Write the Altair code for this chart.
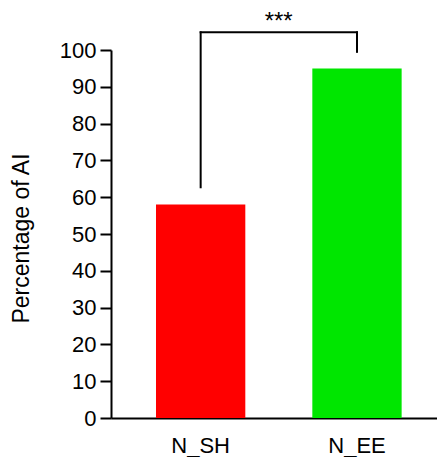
import altair as alt
import pandas as pd

# Data
categories = ["N_SH", "N_EE"]
values = [58, 95]
colors = ["#FF0000", "#00E600"]

# Significance bracket
bracket_left = "N_SH"
bracket_right = "N_EE"
bracket_top = 104.8
bracket_left_bottom = 62.7
bracket_right_bottom = 99.5
sig_label = "***"
sig_y = 105.6

y_title = "Percentage of AI"
y_tick_count = 10

bars_df = pd.DataFrame({"group": categories, "value": values})
horiz_df = pd.DataFrame({"x": [bracket_left], "x2": [bracket_right], "y": [bracket_top]})
vert_df = pd.DataFrame({
    "x": [bracket_left, bracket_right],
    "y": [bracket_left_bottom, bracket_right_bottom],
    "y2": [bracket_top, bracket_top],
})
text_df = pd.DataFrame({"x": [bracket_left], "y": [sig_y], "label": [sig_label]})

FONT = "Liberation Sans"

x_scale = alt.Scale(domain=categories, paddingInner=0.4287, paddingOuter=0.257, align=0.56)
y_scale = alt.Scale(domain=[0, 100], nice=False)

bars = alt.Chart(bars_df).mark_bar().encode(
    x=alt.X("group:N", scale=x_scale, sort=categories, title=None),
    y=alt.Y("value:Q", scale=y_scale, title=y_title),
    color=alt.Color("group:N", scale=alt.Scale(domain=categories, range=colors), legend=None),
)

horiz = alt.Chart(horiz_df).mark_rule(color="black", strokeWidth=2, strokeCap="square").encode(
    x=alt.X("x:N", scale=x_scale, title=None),
    x2="x2:N",
    y=alt.Y("y:Q", scale=y_scale, title=y_title),
)

vert = alt.Chart(vert_df).mark_rule(color="black", strokeWidth=2, strokeCap="square").encode(
    x=alt.X("x:N", scale=x_scale, title=None),
    y=alt.Y("y:Q", scale=y_scale, title=y_title),
    y2="y2:Q",
)

text = alt.Chart(text_df).mark_text(fontSize=24, font=FONT, color="black",
                                     baseline="alphabetic", align="center", dx=78).encode(
    x=alt.X("x:N", scale=x_scale, title=None),
    y=alt.Y("y:Q", scale=y_scale, title=y_title),
    text="label:N",
)

chart = alt.layer(bars, horiz, vert, text).properties(
    width=326, height=368,
    autosize=alt.AutoSizeParams(type="none"),
    padding={"left": 111, "top": 50, "right": 0, "bottom": 39},
    background="white",
).configure_view(stroke=None).configure_axis(
    grid=False, domainColor="black", domainWidth=2, labelFont=FONT,
    labelColor="black", labelFontSize=22, titleFont=FONT, titleColor="black",
    titleFontWeight="normal",
).configure_axisX(
    ticks=False, labelAngle=0, labelPadding=17,
).configure_axisY(
    tickCount=y_tick_count, labelOverlap=False, tickColor="black", tickWidth=2,
    tickSize=11, labelPadding=4, titleFontSize=23, titleX=-83, titleY=188,
    titleAngle=270, titleAlign="center", titleBaseline="alphabetic",
)

chart.save("out.html", embed_options={"renderer": "svg", "actions": False})
